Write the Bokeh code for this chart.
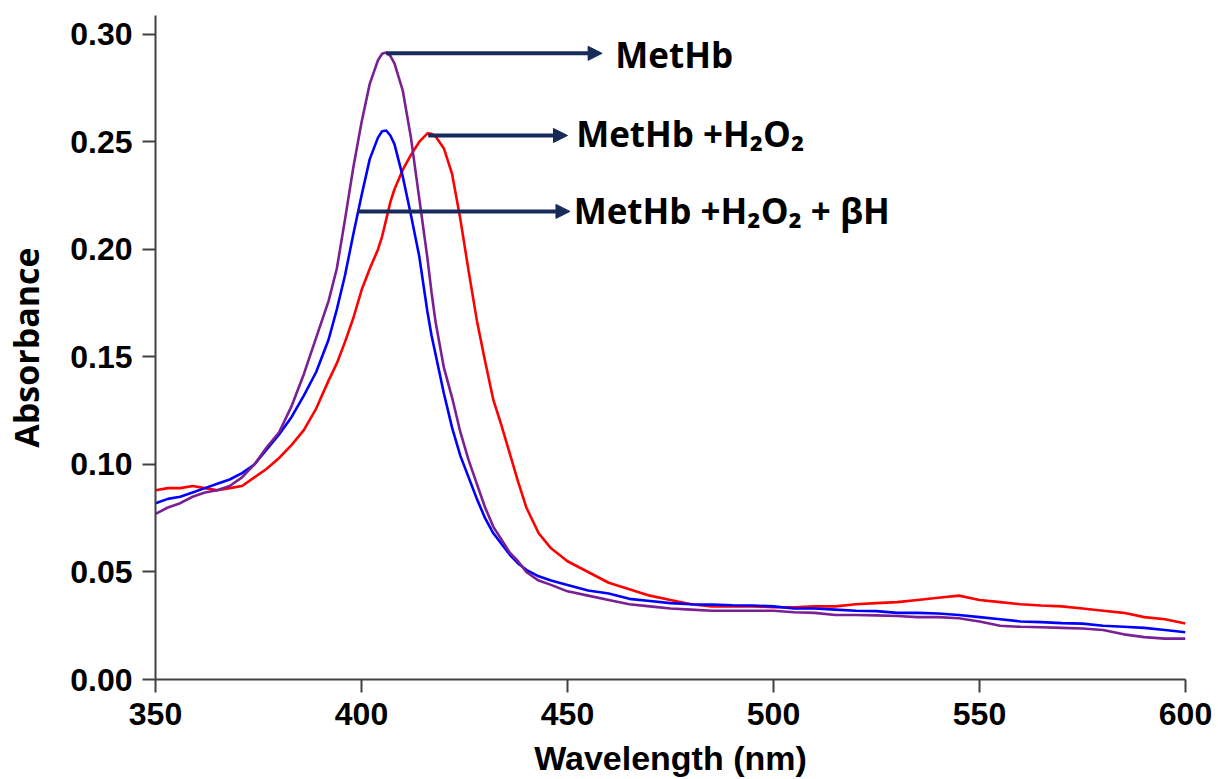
from bokeh.plotting import figure
from bokeh.models import Arrow, NormalHead, Range1d, Label, FixedTicker, PrintfTickFormatter
from bokeh.embed import file_html
from bokeh.resources import INLINE

# ---- data ----
wavelength = [350, 353, 356, 359, 362, 365, 368, 371, 374, 377, 380, 383, 386, 389, 392, 394, 396, 398,
              400, 402, 404, 405, 406, 407, 408, 410, 412, 414, 416, 417, 418, 420, 422, 424, 426, 428,
              430, 432, 434, 436, 438, 440, 443, 446, 450, 455, 460, 465, 470, 475, 480, 485, 490, 495,
              500, 505, 510, 515, 520, 525, 530, 535, 540, 545, 550, 555, 560, 565, 570, 575, 580, 585,
              590, 595, 600]

metHb = [0.077, 0.080, 0.082, 0.085, 0.087, 0.088, 0.090, 0.094, 0.100, 0.108, 0.115, 0.127, 0.142, 0.159,
         0.176, 0.191, 0.214, 0.238, 0.259, 0.277, 0.288, 0.291, 0.2916, 0.290, 0.2865, 0.274, 0.252,
         0.224, 0.196, 0.180, 0.166, 0.145, 0.131, 0.115, 0.102, 0.091, 0.080, 0.071, 0.065, 0.059,
         0.055, 0.050, 0.046, 0.044, 0.041, 0.039, 0.037, 0.035, 0.034, 0.033, 0.0325, 0.032, 0.032,
         0.032, 0.032, 0.0313, 0.031, 0.030, 0.030, 0.0298, 0.0295, 0.029, 0.029, 0.0285, 0.027, 0.025,
         0.0245, 0.0243, 0.024, 0.0237, 0.023, 0.021, 0.0197, 0.019, 0.019]

metHb_h2o2 = [0.088, 0.089, 0.089, 0.090, 0.089, 0.088, 0.089, 0.090, 0.094, 0.098, 0.103, 0.109, 0.116,
              0.126, 0.139, 0.147, 0.157, 0.168, 0.181, 0.191, 0.200, 0.206, 0.214, 0.222, 0.228, 0.237,
              0.244, 0.250, 0.254, 0.2538, 0.2525, 0.247, 0.235, 0.214, 0.190, 0.167, 0.148, 0.130, 0.118,
              0.105, 0.092, 0.080, 0.068, 0.061, 0.055, 0.050, 0.045, 0.042, 0.039, 0.037, 0.035, 0.034,
              0.034, 0.034, 0.0336, 0.0336, 0.034, 0.034, 0.035, 0.0355, 0.036, 0.037, 0.038, 0.039,
              0.037, 0.036, 0.035, 0.0344, 0.034, 0.033, 0.032, 0.031, 0.029, 0.028, 0.026]

metHb_h2o2_bh = [0.082, 0.084, 0.085, 0.087, 0.089, 0.091, 0.093, 0.096, 0.100, 0.107, 0.114, 0.122, 0.132,
                 0.143, 0.158, 0.172, 0.188, 0.207, 0.225, 0.242, 0.252, 0.255, 0.2553, 0.253, 0.249,
                 0.234, 0.216, 0.197, 0.171, 0.160, 0.151, 0.133, 0.117, 0.104, 0.094, 0.084, 0.075,
                 0.068, 0.063, 0.058, 0.054, 0.051, 0.048, 0.046, 0.044, 0.0414, 0.040, 0.0375, 0.0365,
                 0.0355, 0.035, 0.0348, 0.0345, 0.0344, 0.034, 0.033, 0.033, 0.0325, 0.032, 0.0318, 0.031,
                 0.031, 0.0307, 0.030, 0.029, 0.028, 0.027, 0.0267, 0.0262, 0.026, 0.025, 0.0245, 0.024,
                 0.023, 0.022]

x_ticks = [350, 400, 450, 500, 550, 600]
y_ticks = [0.00, 0.05, 0.10, 0.15, 0.20, 0.25, 0.30]

labels = ["MetHb", "MetHb +H\u2082O\u2082", "MetHb +H\u2082O\u2082 + \u03b2H"]
# annotation layout: arrow start (x, y), arrow end x, text anchor (x, y)
arrow_start_x = [406.0, 416.2, 399.2]
arrow_y = [0.2912, 0.2530, 0.2177]
arrow_end_x = [458.4, 450.0, 450.6]
text_x = [461.6, 452.1, 451.5]
text_y = [0.2905, 0.2538, 0.2180]

NAVY = "#172b5a"
AX = "#404040"

p = figure(width=1218, height=779, output_backend="svg", toolbar_location=None,
           x_range=Range1d(350, 600), y_range=Range1d(0, 0.3088),
           min_border_left=154, min_border_right=33, min_border_top=15, min_border_bottom=100)
p.outline_line_color = None
p.grid.visible = False
p.background_fill_color = "white"
p.border_fill_color = "white"

p.line(wavelength, metHb_h2o2, line_color="#ff0000", line_width=2.6)
p.line(wavelength, metHb_h2o2_bh, line_color="#0000ff", line_width=2.6)
p.line(wavelength, metHb, line_color="#7b1f94", line_width=2.6)

for i in range(3):
    p.add_layout(Arrow(end=NormalHead(size=14, fill_color=NAVY, line_color=NAVY),
                       x_start=arrow_start_x[i], y_start=arrow_y[i],
                       x_end=arrow_end_x[i], y_end=arrow_y[i],
                       line_color=NAVY, line_width=4))
    p.add_layout(Label(x=text_x[i], y=text_y[i], text=labels[i], text_font="Open Sans",
                       text_font_style="bold", text_font_size="35px", text_color="black",
                       text_align="left", text_baseline="alphabetic"))

for ax in (p.xaxis, p.yaxis):
    ax.axis_line_color = AX
    ax.axis_line_width = 2
    ax.major_tick_line_color = AX
    ax.major_tick_line_width = 2
    ax.major_tick_out = 13
    ax.major_tick_in = 0
    ax.minor_tick_out = 0
    ax.minor_tick_in = 0
    ax.major_label_text_font = "Liberation Sans"
    ax.major_label_text_font_style = "bold"
    ax.major_label_text_font_size = "32px"
    ax.major_label_text_color = "black"
    ax.major_label_standoff = 10
    ax.axis_label_text_font_style = "bold"
    ax.axis_label_text_color = "black"

p.xaxis.ticker = FixedTicker(ticks=x_ticks)
p.yaxis.ticker = FixedTicker(ticks=y_ticks)
p.yaxis.formatter = PrintfTickFormatter(format="%.2f")

p.xaxis.axis_label = "Wavelength (nm)"
p.xaxis.axis_label_text_font = "Liberation Sans"
p.xaxis.axis_label_text_font_size = "34px"
p.xaxis.axis_label_standoff = 11

p.yaxis.axis_label = "Absorbance"
p.yaxis.axis_label_text_font = "Open Sans"
p.yaxis.axis_label_text_font_size = "34px"
p.yaxis.axis_label_standoff = 18

open("out.html", "w").write(file_html(p, INLINE))
